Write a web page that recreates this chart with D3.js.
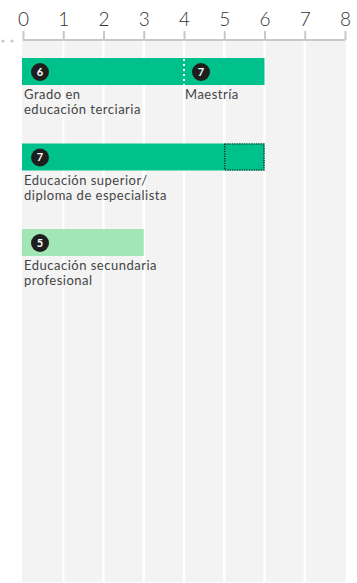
<!DOCTYPE html>
<html>
<head>
<meta charset="utf-8">
<script src="https://cdn.jsdelivr.net/npm/d3@7"></script>
<style>
  body { margin: 0; background: #fff; }
  svg { display: block; font-family: Lato, "Open Sans", sans-serif; }
</style>
</head>
<body>
<svg width="357" height="583"></svg>
<script>
(function() {

// rows of the chart (top to bottom)
var levels = ["Grado en educación terciaria", "Educación superior/diploma de especialista", "Educación secundaria profesional"];
var starts = [0, 0, 0];
var ends = [6, 6, 3];
var badges = [6, 7, 5];
var barColors = ["#00c08b", "#00c08b", "#a3e6b6"];
var labelLines = [["Grado en", "educación terciaria"], ["Educación superior/", "diploma de especialista"], ["Educación secundaria", "profesional"]];

// extra segment on the first row
var splitAt = 4, splitBadge = 7, splitLabel = "Maestría";
// dotted part on the second row
var dottedFrom = 5, dottedTo = 6;

var ticks = [0, 1, 2, 3, 4, 5, 6, 7, 8];

var svg = d3.select("svg"),
    width = 357,
    height = 583;

var x = d3.scaleLinear().domain([0, 8]).range([23, 345]);
var y = d3.scaleBand().domain(levels).range([58, 256]).paddingInner(0.684).paddingOuter(0);

// grey columns behind everything
svg.append("g").selectAll("rect")
    .data(d3.range(0, 8))
    .enter()
    .append("rect")
    .attr("x", function(d) { return x(d) + (d == 0 ? -1 : 1.2); })
    .attr("y", 40)
    .attr("width", function(d) { return x(d + 1) - x(d) - (d == 0 ? -0.2 : 2.4) + (d == 7 ? 2 : 0); })
    .attr("height", height - 41)
    .attr("fill", "#f3f3f3");

// axis on top
var axis = svg.append("g")
    .attr("transform", "translate(0,40)")
    .call(d3.axisTop(x).tickValues(ticks).tickSize(9).tickPadding(5).tickFormat(d3.format("d")));
axis.select(".domain").attr("stroke", "#c8c8c8").attr("stroke-width", 2).attr("d", "M" + x(0) + ",0H" + x(8));
axis.selectAll(".tick line").attr("stroke", "#c8c8c8").attr("stroke-width", 2);
axis.selectAll(".tick text")
    .attr("fill", "#333")
    .style("font-family", "Lato, sans-serif")
    .style("font-weight", 300)
    .style("font-size", "19px");

// little dots left of the axis
svg.append("g").selectAll("circle")
    .data([0, 1])
    .enter()
    .append("circle")
    .attr("cx", function(d) { return 3 + d * 9; })
    .attr("cy", 41)
    .attr("r", 1.6)
    .attr("fill", "#c8c8c8");

var bh = y.bandwidth();

// bars
svg.append("g").selectAll("rect")
    .data(levels)
    .enter()
    .append("rect")
    .attr("x", function(d, i) { return x(starts[i]) - 1; })
    .attr("y", function(d) { return y(d); })
    .attr("width", function(d, i) { return x(ends[i]) - x(starts[i]) + 1; })
    .attr("height", bh)
    .attr("fill", function(d, i) { return barColors[i]; });

// white dotted divider on row 1
svg.append("line")
    .attr("x1", x(splitAt)).attr("x2", x(splitAt))
    .attr("y1", y(levels[0]) + 1).attr("y2", y(levels[0]) + bh)
    .attr("stroke", "#fff")
    .attr("stroke-width", 2)
    .attr("stroke-dasharray", "2,3");

// dotted box on row 2
svg.append("rect")
    .attr("x", x(dottedFrom) + 0.5)
    .attr("y", y(levels[1]) + 0.5)
    .attr("width", x(dottedTo) - x(dottedFrom) - 1)
    .attr("height", bh - 1)
    .attr("fill", "none")
    .attr("stroke", "#111")
    .attr("stroke-width", 1.2)
    .attr("stroke-dasharray", "1.2,1.2");

// badges
var badgeData = levels.map(function(d, i) { return {x: starts[i], row: d, n: badges[i]}; });
badgeData.push({x: splitAt, row: levels[0], n: splitBadge});

var badge = svg.append("g").selectAll("g")
    .data(badgeData)
    .enter()
    .append("g")
    .attr("transform", function(d) { return "translate(" + (x(d.x) + 17) + "," + (y(d.row) + bh / 2 + 0.5) + ")"; });
badge.append("circle").attr("r", 9).attr("fill", "#1e1e1e");
badge.append("text")
    .attr("text-anchor", "middle")
    .attr("dy", "0.36em")
    .attr("fill", "#fff")
    .style("font-size", "11px")
    .style("font-weight", "bold")
    .text(function(d) { return d.n; });

// labels under bars
var labelData = levels.map(function(d, i) { return {x: starts[i], row: d, lines: labelLines[i]}; });
labelData.push({x: splitAt, row: levels[0], lines: [splitLabel]});

svg.append("g").selectAll("text")
    .data(labelData)
    .enter()
    .append("text")
    .attr("x", function(d) { return x(d.x) + 1; })
    .attr("y", function(d) { return y(d.row) + bh + 14; })
    .attr("fill", "#444")
    .style("font-size", "13px")
    .style("letter-spacing", "0.5px")
    .each(function(d) {
        var t = d3.select(this);
        d.lines.forEach(function(l, k) {
            t.append("tspan").attr("x", x(d.x) + 1).attr("dy", k == 0 ? 0 : 15).text(l);
        });
    });

})();
</script>
</body>
</html>
